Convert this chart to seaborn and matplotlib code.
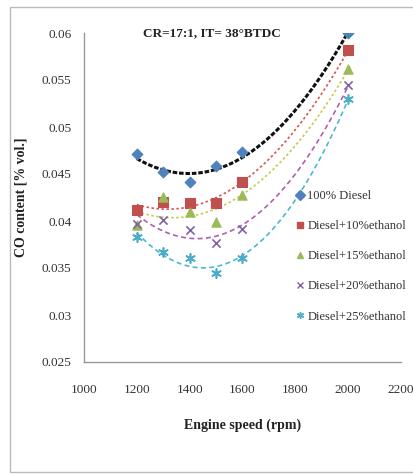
import numpy as np
import pandas as pd
import matplotlib
matplotlib.use("Agg")
import matplotlib.pyplot as plt
import seaborn as sns
from matplotlib.patches import Rectangle

speed = [1200, 1300, 1400, 1500, 1600, 2000]
diesel = [0.0471, 0.0452, 0.0441, 0.0458, 0.0473, 0.0600]
eth10 = [0.0412, 0.0420, 0.0419, 0.0419, 0.0441, 0.0582]
eth15 = [0.0396, 0.0426, 0.0410, 0.0399, 0.0428, 0.0562]
eth20 = [0.0397, 0.0401, 0.0390, 0.0377, 0.0391, 0.0545]
eth25 = [0.0383, 0.0367, 0.0361, 0.0345, 0.0361, 0.0530]
labels = ["100% Diesel", "Diesel+10%ethanol", "Diesel+15%ethanol",
          "Diesel+20%ethanol", "Diesel+25%ethanol"]
yticks = [0.025, 0.03, 0.035, 0.04, 0.045, 0.05, 0.055, 0.06]
ytick_labels = ["0.025", "0.03", "0.035", "0.04", "0.045", "0.05", "0.055", "0.06"]
xticks = [1000, 1200, 1400, 1600, 1800, 2000, 2200]
title = "CR=17:1, IT= 38°BTDC"

series = [diesel, eth10, eth15, eth20, eth25]
marker_colors = ["#4F81BD", "#C0504D", "#9BBB59", "#8064A2", "#4BACC6"]
markers = ["D", "s", "^", "x", (6, 2, 0)]
msizes = [30, 55, 45, 35, 45]
line_colors = ["#111111", "#D9534F", "#C8C84A", "#B05FB0", "#4BB8D6"]
line_styles = [(0, (1.5, 0.6)), (0, (1.5, 1.5)), (0, (1.5, 1.5)), (0, (3, 2)), (0, (3, 2))]
line_widths = [2.2, 1.2, 1.2, 1.2, 1.2]

sns.set_style("white")
plt.rcParams["font.family"] = ["Liberation Serif", "DejaVu Serif"]

fig = plt.figure(figsize=(4.13, 4.74), dpi=100)
ax = fig.add_axes([84/413, 1-362/474, (401-84)/413, (362-33)/474])

rows = []
for lab, vals in zip(labels, series):
    for s, v in zip(speed, vals):
        rows.append({"speed": s, "co": v, "fuel": lab})
df = pd.DataFrame(rows)

xs = np.linspace(min(speed), max(speed), 200)
for i, (lab, vals) in enumerate(zip(labels, series)):
    coef = np.polyfit(speed, vals, 2)
    fit = pd.DataFrame({"speed": xs, "co": np.polyval(coef, xs)})
    sns.lineplot(data=fit, x="speed", y="co", ax=ax, color=line_colors[i],
                 linestyle=line_styles[i], linewidth=line_widths[i], zorder=2)

handles = []
for i, lab in enumerate(labels):
    sub = df[df["fuel"] == lab]
    m = markers[i]
    kw = dict(edgecolor=marker_colors[i], linewidth=0.8) if m in ("D", "s", "^") else dict(linewidth=1.2)
    sns.scatterplot(data=sub, x="speed", y="co", ax=ax, marker=m, s=msizes[i],
                    color=marker_colors[i], zorder=3, **kw)
    handles.append(plt.Line2D([], [], linestyle="none", marker=m,
                              color=marker_colors[i], markersize=5,
                              markeredgewidth=1.0, label=lab))

ax.set_xlim(1000, 2200)
ax.set_ylim(0.025, 0.06)
ax.set_xticks(xticks)
ax.set_xticklabels([str(t) for t in xticks])
ax.set_yticks(yticks)
ax.set_yticklabels(ytick_labels)
ax.tick_params(axis="x", length=0, pad=16, labelsize=9.5, colors="#333333")
ax.tick_params(axis="y", length=0, pad=9, labelsize=9.5, colors="#333333")
for sp in ["top", "right"]:
    ax.spines[sp].set_visible(False)
for sp in ["left", "bottom"]:
    ax.spines[sp].set_color("#999999")
    ax.spines[sp].set_linewidth(1.0)

ax.set_xlabel("Engine speed (rpm)", fontsize=10, fontweight="bold", color="#222222", labelpad=16)
ax.set_ylabel("CO content [% vol.]", fontsize=10, fontweight="bold", color="#222222", labelpad=10)
ax.text(0.404, 1.0, title, transform=ax.transAxes, ha="center", va="center",
        fontsize=9.5, fontweight="bold", color="#222222")

leg = fig.legend(handles=handles, loc="upper left", bbox_to_anchor=(296/413, 1-190/474),
                 frameon=False, fontsize=9, handlelength=0.6, handletextpad=0.3,
                 labelspacing=1.45, borderaxespad=0, borderpad=0)
for t in leg.get_texts():
    t.set_color("#333333")

fig.patches.append(Rectangle((10/413, 2/474), 410/413, 465/474, transform=fig.transFigure,
                             fill=False, edgecolor="#BBBBBB", linewidth=1.0))

fig.savefig("out.png", dpi=100)
